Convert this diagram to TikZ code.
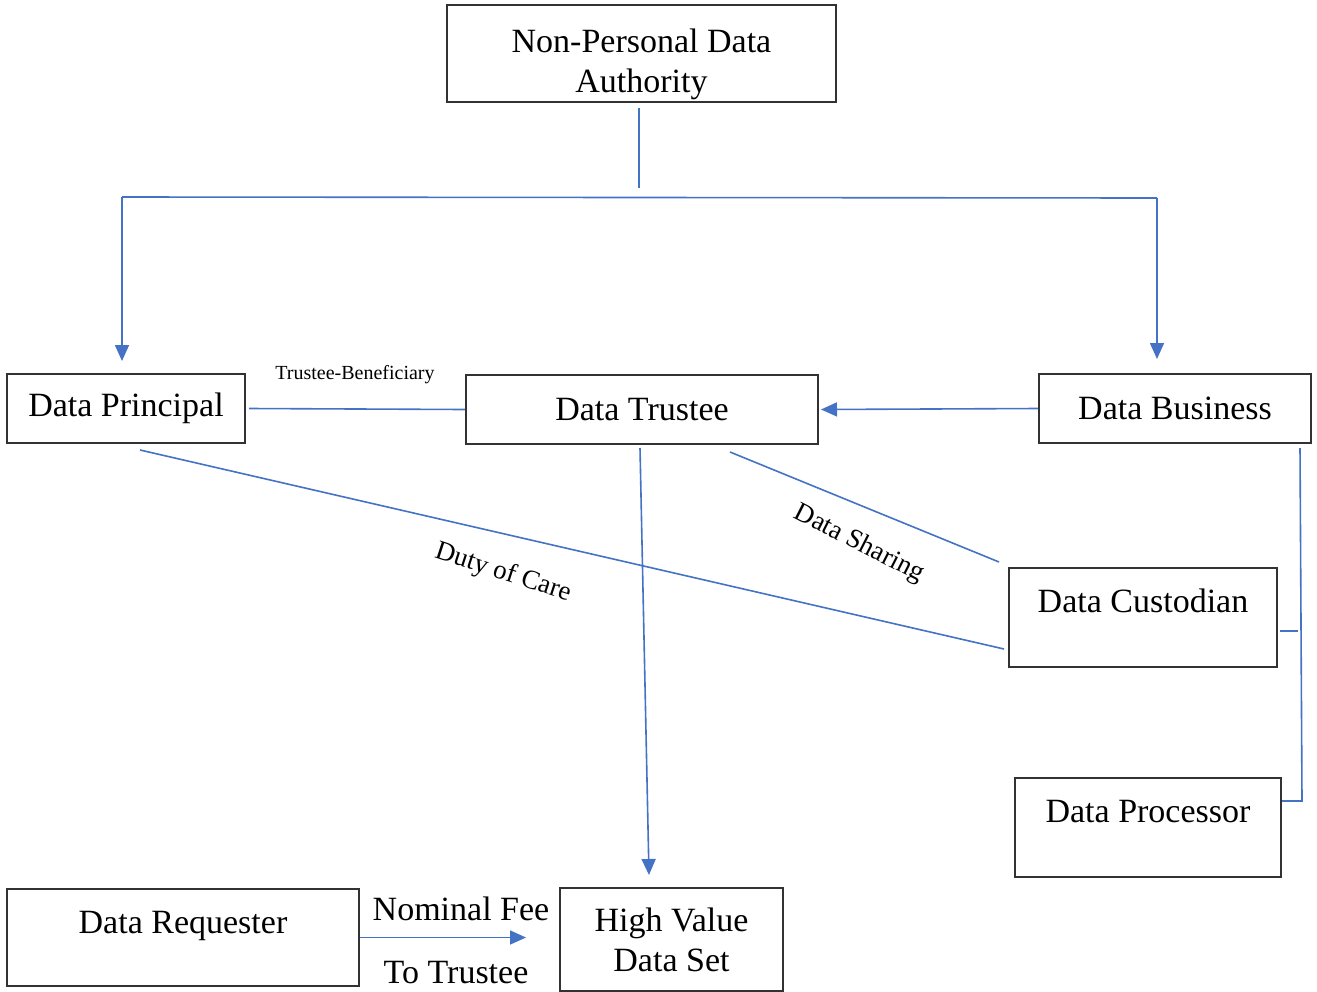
\documentclass[tikz,border=0pt]{standalone}
\usepackage{fontspec}
\setmainfont{Liberation Serif}
\usepackage{tikz}
\usetikzlibrary{arrows.meta, positioning}

\definecolor{linkblue}{RGB}{68,114,196}
\definecolor{boxgray}{RGB}{50,50,50}

\tikzset{
  box/.style={draw=boxgray, line width=1pt, inner sep=0pt, align=center,
    font=\fontsize{17}{20}\selectfont},
  link/.style={draw=linkblue, line width=0.8pt},
  tip/.style={-{Triangle[width=7pt,length=8pt]}},
  tag/.style={font=\fontsize{13.5}{16}\selectfont, inner sep=0pt}
}

\begin{document}
\begin{tikzpicture}[x=0.5pt, y=-0.5pt]
  \useasboundingbox (0,0) rectangle (1317,991);

  % Authority at the top
  \node[box, minimum width=194.5pt, minimum height=48.5pt] (npda) at (641.5,53.5)
    {\rule{0pt}{23pt}Non-Personal Data\\Authority};

  % middle row
  \node[box, minimum width=119pt, minimum height=34.5pt] (dp) at (126,408.5) {Data Principal};
  \node[box, minimum width=176pt, minimum height=34.5pt] (dt) at (642,409.5) {Data Trustee};
  \node[box, minimum width=136pt, minimum height=34.5pt] (db) at (1175,408.5) {Data Business};

  % right column, text sits high in the box
  \node[box, minimum width=134pt, text height=22pt, text depth=27.5pt] (dc) at (1143,617.5) {Data Custodian};
  \node[box, minimum width=133pt, text height=22pt, text depth=27.5pt] (dpr) at (1148,827.5) {Data Processor};

  % bottom row
  \node[box, minimum width=176pt, text height=22pt, text depth=26.5pt] (dr) at (183,937.5) {Data Requester};
  \node[box, minimum width=111.5pt, minimum height=51.5pt] (hv) at (671.5,939.5)
    {High Value\\Data Set};

  % bus from the authority
  \coordinate (stem) at (639,188);
  \coordinate (busL) at (122,197);
  \coordinate (busR) at (1157,198);
  \draw[link] ([shift={(-2.5,5)}]npda.south) -- (stem);
  \draw[link] (busL) -- (busR);
  \draw[link, tip, shorten >=6pt] (busL) -- (busL |- dp.north);
  \draw[link, tip, shorten >=7pt] (busR) -- (busR |- db.north);

  % trustee relations
  \draw[link] ([xshift=1.5pt]dp.east) -- (dt.west);
  \node[font=\fontsize{10}{12}\selectfont, inner sep=0pt] (tb) at (355,375) {Trustee-Beneficiary};
  \draw[link, tip] (db.west) -- ([xshift=1pt]dt.east);

  % Data Sharing
  \draw[link] ([shift={(88,7)}]dt.south) -- ([shift={(-9,-5)}]dc.north west);
  \node[tag, rotate=-27] (ds) at (859,544) {Data Sharing};

  % Duty of Care
  \draw[link] ([shift={(14,6)}]dp.south) -- ([shift={(-4,31.5)}]dc.west);
  \node[tag, rotate=-18] (doc) at (503,573) {Duty of Care};

  % Trustee to data set
  \coordinate (hvtop) at (649,875);
  \draw[link, tip] ([shift={(-2,3)}]dt.south) -- (hvtop);

  % business to custodian and processor
  \coordinate (rbus) at (1302,801);
  \draw[link] ([shift={(-12,4)}]db.south east) -- (rbus) -- (rbus -| dpr.east);
  \draw[link] ([shift={(2,13.5)}]dc.east) -- ++(18,0);

  % requester pays fee
  \draw[link, tip, shorten >=16.5pt] (dr.east) -- (dr.east -| hv.west);
  \node[font=\fontsize{17}{20}\selectfont, inner sep=0pt] (fee) at (461,909) {Nominal Fee};
  \node[font=\fontsize{17}{20}\selectfont, inner sep=0pt] (tot) at (456,973) {To Trustee};
\end{tikzpicture}
\end{document}
